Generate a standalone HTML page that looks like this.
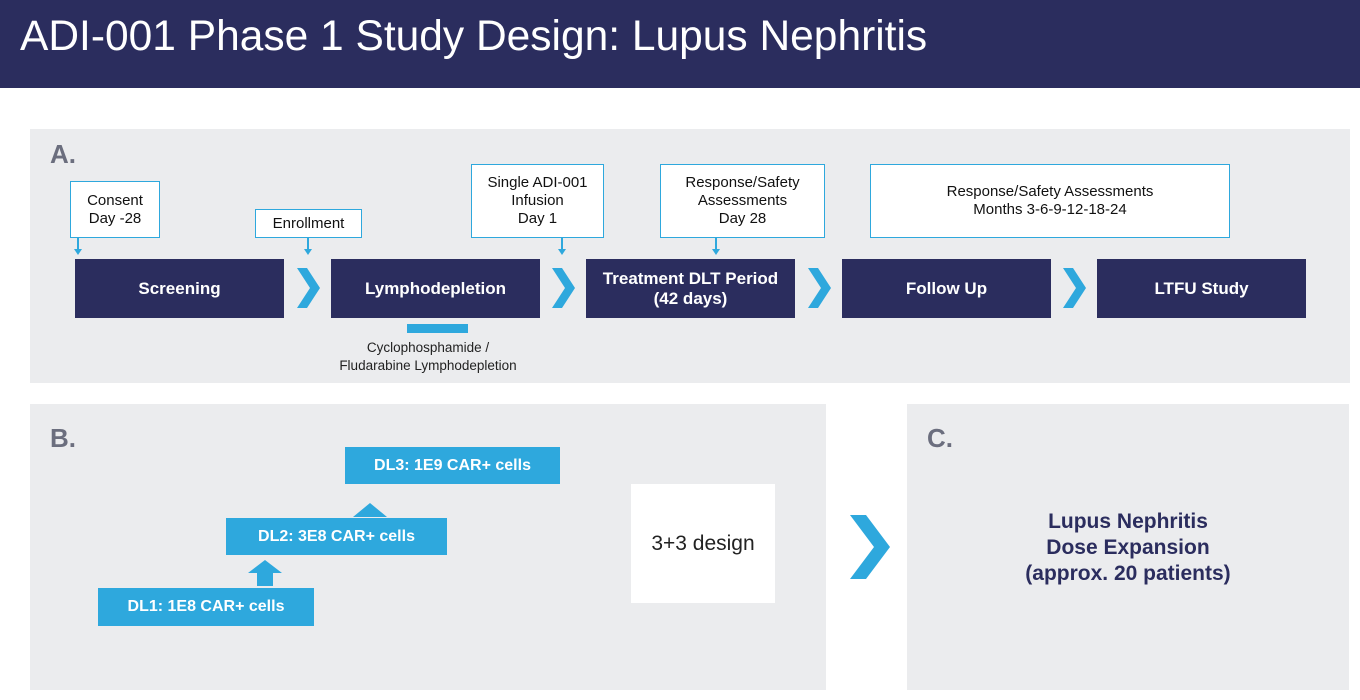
<!DOCTYPE html>
<html><head><style>
body{margin:0;width:1360px;height:700px;background:#fff;position:relative;font-family:"Liberation Sans",Arial,sans-serif;overflow:hidden}
div{position:absolute;box-sizing:border-box}
.hdr{left:0;top:0;width:1360px;height:88px;background:#2b2d5e;color:#fff;font-size:42.5px;padding:13px 0 0 20px}
.panel{background:#ebecee}
.lbl{font-size:26px;font-weight:bold;color:#6b6e7e}
.nb{background:#2b2d5e;color:#fff;font-weight:bold;font-size:17px;display:flex;align-items:center;justify-content:center;text-align:center;line-height:20px;height:59px;width:209px;top:259px}
.co{background:#fff;border:1.5px solid #2ea8dd;font-size:15px;line-height:18px;text-align:center;display:flex;align-items:center;justify-content:center;color:#111}
.ar{width:2px;background:#2ea8dd}
.ah{width:0;height:0;border-left:4px solid transparent;border-right:4px solid transparent;border-top:6px solid #2ea8dd}
.dl{background:#2ea8dd;color:#fff;font-weight:bold;font-size:16px;display:flex;align-items:center;justify-content:center}
</style></head><body>
<div class="hdr">ADI-001 Phase 1 Study Design: Lupus Nephritis</div>
<div class="panel" style="left:30px;top:129px;width:1320px;height:254px"></div>
<div class="lbl" style="left:50px;top:139px">A.</div>
<div class="co" style="left:70px;top:181px;width:90px;height:57px">Consent<br>Day -28</div>
<div class="co" style="left:255px;top:209px;width:107px;height:29px">Enrollment</div>
<div class="co" style="left:471px;top:164px;width:133px;height:74px">Single ADI-001<br>Infusion<br>Day 1</div>
<div class="co" style="left:660px;top:164px;width:165px;height:74px">Response/Safety<br>Assessments<br>Day 28</div>
<div class="co" style="left:870px;top:164px;width:360px;height:74px">Response/Safety Assessments<br>Months 3-6-9-12-18-24</div>
<div class="ar" style="left:77px;top:238px;height:12px"></div><div class="ah" style="left:74px;top:249px"></div>
<div class="ar" style="left:307px;top:238px;height:12px"></div><div class="ah" style="left:304px;top:249px"></div>
<div class="ar" style="left:561px;top:238px;height:12px"></div><div class="ah" style="left:558px;top:249px"></div>
<div class="ar" style="left:715px;top:238px;height:12px"></div><div class="ah" style="left:712px;top:249px"></div>
<div class="nb" style="left:75px">Screening</div>
<div class="nb" style="left:331px">Lymphodepletion</div>
<div class="nb" style="left:586px">Treatment DLT Period<br>(42 days)</div>
<div class="nb" style="left:842px">Follow Up</div>
<div class="nb" style="left:1097px">LTFU Study</div>
<div style="left:407px;top:324px;width:61px;height:9px;background:#2ea8dd"></div>
<div style="left:310px;top:339px;width:236px;text-align:center;font-size:13.5px;line-height:18px;color:#222">Cyclophosphamide /<br>Fludarabine Lymphodepletion</div>
<div class="panel" style="left:30px;top:404px;width:796px;height:286px"></div>
<div class="lbl" style="left:50px;top:423px">B.</div>
<div class="dl" style="left:345px;top:447px;width:215px;height:37px">DL3: 1E9 CAR+ cells</div>
<div class="dl" style="left:226px;top:518px;width:221px;height:37px">DL2: 3E8 CAR+ cells</div>
<div class="dl" style="left:98px;top:588px;width:216px;height:38px">DL1: 1E8 CAR+ cells</div>
<div style="left:631px;top:484px;width:144px;height:119px;background:#fff;display:flex;align-items:center;justify-content:center;font-size:21px;color:#222">3+3 design</div>
<div class="panel" style="left:907px;top:404px;width:442px;height:286px"></div>
<div class="lbl" style="left:927px;top:423px">C.</div>
<div style="left:907px;top:509px;width:442px;text-align:center;font-size:21px;font-weight:bold;color:#2b2d5e;line-height:26px">Lupus Nephritis<br>Dose Expansion<br>(approx. 20 patients)</div>
<svg style="position:absolute;left:0;top:0" width="1360" height="700">
<g fill="#2ea8dd">
<polygon points="297,268 307,268 320,288 307,308 297,308 310,288"/>
<polygon points="552,268 562,268 575,288 562,308 552,308 565,288"/>
<polygon points="808,268 818,268 831,288 818,308 808,308 821,288"/>
<polygon points="1063,268 1073,268 1086,288 1073,308 1063,308 1076,288"/>
<polygon points="850,515 866,515 890,547 866,579 850,579 874,547"/>
<polygon points="248,573 265,560 282,573 273,573 273,586 257,586 257,573"/>
<polygon points="353,517 370,503 387,517"/>
</g></svg>
</body></html>
